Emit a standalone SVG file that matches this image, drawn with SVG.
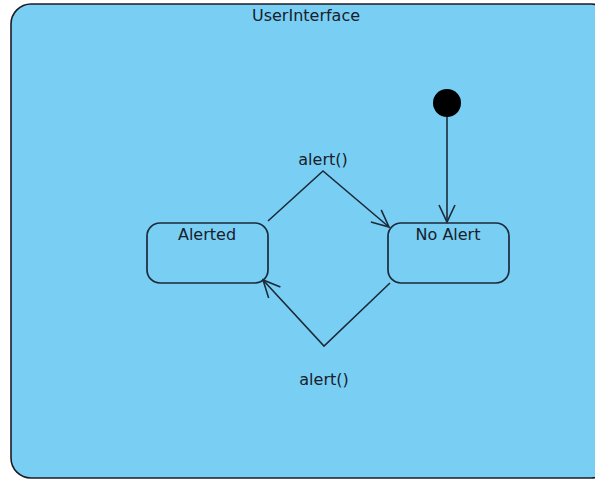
<svg xmlns="http://www.w3.org/2000/svg" width="595" height="479" viewBox="0 0 595 479">
  <style>
    .frame { fill: #79cff3; stroke: #1c1c24; stroke-width: 1.6; }
    .state { fill: #79cff3; stroke: #1c2a3a; stroke-width: 1.7; }
    .label { font-family: "Lucida Grande", "DejaVu Sans", "Liberation Sans", sans-serif; font-size: 16px; fill: #18202c; text-anchor: middle; }
    .edge { fill: none; stroke: #1c2a3a; stroke-width: 1.6; }
  </style>
  <defs>
    <marker id="open" viewBox="0 0 20 20" refX="18" refY="10" markerWidth="20" markerHeight="20" markerUnits="userSpaceOnUse" orient="auto">
      <path d="M1,2 L18,10 L1,18" fill="none" stroke="#1c2a3a" stroke-width="1.6"/>
    </marker>
  </defs>
  <rect width="595" height="479" fill="#ffffff"/>

  <g id="UserInterface">
    <rect class="frame" x="11" y="4" width="600" height="474" rx="20" ry="20"/>
    <text class="label" x="306" y="21">UserInterface</text>
  </g>

  <g id="initial">
    <circle cx="447" cy="103" r="14" fill="#000000"/>
  </g>

  <g id="Alerted">
    <rect class="state" x="147" y="223" width="121" height="60" rx="13" ry="13"/>
    <text class="label" x="207" y="240">Alerted</text>
  </g>

  <g id="NoAlert">
    <rect class="state" x="388" y="223" width="121" height="60" rx="13" ry="13"/>
    <text class="label" x="448" y="240">No Alert</text>
  </g>

  <g id="connectors">
    <line class="edge" x1="447" y1="117" x2="447" y2="222" marker-end="url(#open)"/>
    <polyline class="edge" points="268,221 323,171 389,227" marker-end="url(#open)"/>
    <polyline class="edge" points="390,283 324,346 263,280" marker-end="url(#open)"/>
    <text class="label" x="323" y="165">alert()</text>
    <text class="label" x="324" y="385">alert()</text>
  </g>
</svg>
